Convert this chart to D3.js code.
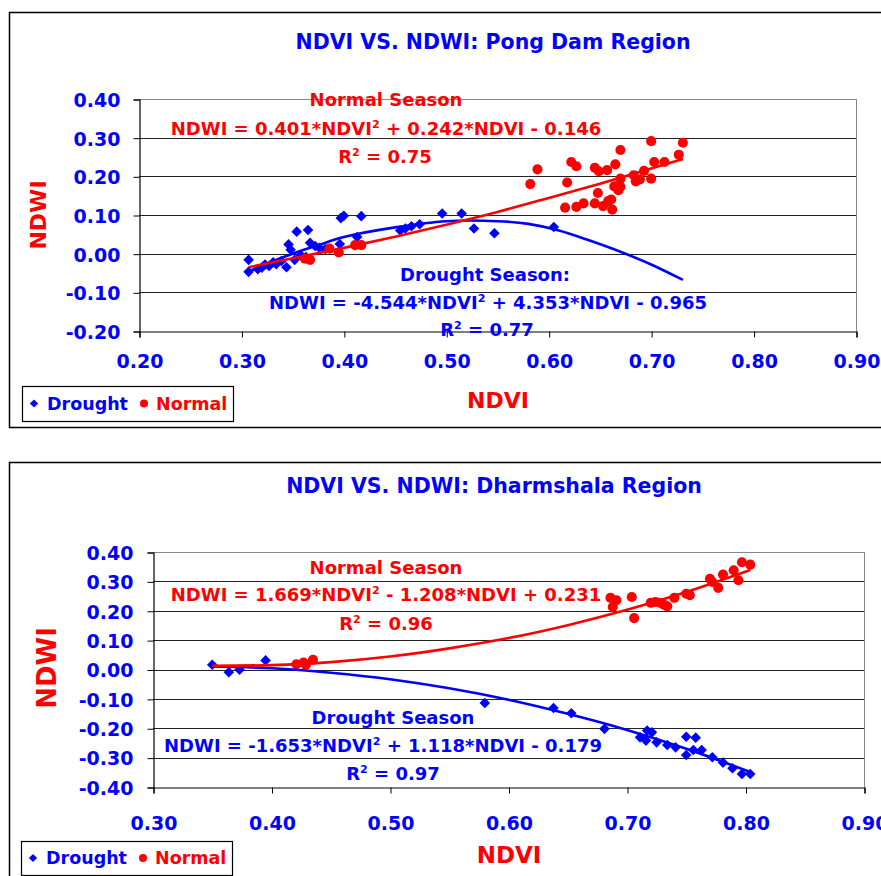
<!DOCTYPE html>
<html><head><meta charset="utf-8">
<script src="https://cdn.jsdelivr.net/npm/d3@7"></script>
<style>body{margin:0;background:#fff;overflow:hidden} svg{display:block}</style>
</head><body>
<script>
// ---------------- DATA ----------------
const xTicksPong = [0.2, 0.3, 0.4, 0.5, 0.6, 0.7, 0.8, 0.9];
const yTicksPong = [-0.2, -0.1, 0.0, 0.1, 0.2, 0.3, 0.4];
const xTicksDhar = [0.3, 0.4, 0.5, 0.6, 0.7, 0.8, 0.9];
const yTicksDhar = [-0.4, -0.3, -0.2, -0.1, 0.0, 0.1, 0.2, 0.3, 0.4];
const seriesNames = ["Drought", "Normal"];

const pongDrought = [
  [0.307,-0.016],[0.307,-0.047],[0.316,-0.040],[0.320,-0.036],[0.323,-0.028],[0.327,-0.032],
  [0.331,-0.022],[0.334,-0.027],[0.339,-0.019],[0.344,-0.035],[0.346,0.024],[0.348,0.010],
  [0.352,-0.016],[0.354,0.057],[0.358,-0.004],[0.363,-0.009],[0.365,0.061],[0.367,0.028],
  [0.372,0.020],[0.376,0.015],[0.382,0.012],[0.396,0.025],[0.397,0.092],[0.400,0.098],
  [0.413,0.043],[0.417,0.097],[0.455,0.060],[0.460,0.065],[0.466,0.071],[0.474,0.076],
  [0.496,0.104],[0.515,0.104],[0.527,0.065],[0.547,0.053],[0.605,0.069]
];
const pongNormal = [
  [0.362,-0.013],[0.367,-0.016],[0.386,0.013],[0.395,0.003],[0.411,0.022],[0.417,0.022],
  [0.582,0.180],[0.589,0.218],[0.616,0.119],[0.618,0.184],[0.622,0.237],[0.627,0.226],
  [0.627,0.121],[0.634,0.130],[0.645,0.130],[0.645,0.222],[0.648,0.157],[0.649,0.213],
  [0.653,0.123],[0.657,0.216],[0.658,0.136],[0.661,0.140],[0.662,0.114],[0.665,0.231],
  [0.664,0.174],[0.668,0.164],[0.670,0.268],[0.670,0.194],[0.670,0.173],[0.683,0.203],
  [0.685,0.187],[0.689,0.192],[0.693,0.214],[0.700,0.291],[0.700,0.194],[0.703,0.237],
  [0.713,0.237],[0.727,0.256],[0.731,0.287]
];
const pongDroughtTrend = [
  [0.307,-0.046],[0.33,-0.020],[0.35,0.000],[0.375,0.022],[0.40,0.043],[0.45,0.068],
  [0.50,0.084],[0.55,0.084],[0.58,0.077],[0.61,0.060],[0.64,0.034],[0.67,0.005],
  [0.70,-0.028],[0.731,-0.068]
];
const pongNormalTrend = [
  [0.307,-0.035],[0.35,-0.012],[0.40,0.015],[0.45,0.044],[0.50,0.075],[0.55,0.108],
  [0.60,0.144],[0.65,0.181],[0.70,0.220],[0.731,0.245]
];

const dharDrought = [
  [0.350,0.016],[0.364,-0.009],[0.373,-0.001],[0.395,0.031],[0.580,-0.114],[0.638,-0.131],
  [0.653,-0.149],[0.681,-0.202],[0.711,-0.231],[0.716,-0.242],[0.717,-0.208],[0.721,-0.214],
  [0.725,-0.248],[0.734,-0.257],[0.741,-0.265],[0.750,-0.229],[0.750,-0.291],[0.756,-0.274],
  [0.758,-0.232],[0.763,-0.274],[0.772,-0.299],[0.781,-0.317],[0.789,-0.336],[0.797,-0.356],
  [0.804,-0.356]
];
const dharNormal = [
  [0.421,0.018],[0.427,0.024],[0.429,0.016],[0.435,0.033],
  [0.686,0.244],[0.688,0.213],[0.691,0.236],[0.704,0.247],[0.706,0.175],[0.720,0.227],
  [0.724,0.230],[0.728,0.227],[0.731,0.221],[0.734,0.215],[0.740,0.244],[0.750,0.258],
  [0.753,0.253],[0.770,0.309],[0.772,0.298],[0.777,0.278],[0.781,0.323],[0.790,0.338],
  [0.794,0.304],[0.797,0.365],[0.804,0.357]
];
const dharDroughtTrend = [
  [0.350,0.010],[0.40,0.004],[0.45,-0.011],[0.50,-0.033],[0.55,-0.064],[0.60,-0.103],
  [0.65,-0.151],[0.70,-0.206],[0.75,-0.270],[0.804,-0.349]
];
const dharNormalTrend = [
  [0.350,0.013],[0.40,0.015],[0.45,0.025],[0.50,0.044],[0.55,0.072],[0.60,0.107],
  [0.65,0.151],[0.70,0.203],[0.75,0.264],[0.804,0.339]
];

const pongTitle = "NDVI VS. NDWI: Pong Dam Region";
const dharTitle = "NDVI VS. NDWI: Dharmshala Region";
const pongLabels = [
  {parts:["Normal Season"], color:"red"},
  {parts:["NDWI = 0.401*NDVI","2"," + 0.242*NDVI - 0.146"], color:"red"},
  {parts:["R","2"," = 0.75"], color:"red"},
  {parts:["Drought Season:"], color:"blue"},
  {parts:["NDWI = -4.544*NDVI","2"," + 4.353*NDVI - 0.965"], color:"blue"},
  {parts:["R","2"," = 0.77"], color:"blue"}
];
const dharLabels = [
  {parts:["Normal Season"], color:"red"},
  {parts:["NDWI = 1.669*NDVI","2"," - 1.208*NDVI + 0.231"], color:"red"},
  {parts:["R","2"," = 0.96"], color:"red"},
  {parts:["Drought Season"], color:"blue"},
  {parts:["NDWI = -1.653*NDVI","2"," + 1.118*NDVI - 0.179"], color:"blue"},
  {parts:["R","2"," = 0.97"], color:"blue"}
];

// ---------------- LAYOUT ----------------
const FONT = "'DejaVu Sans', Verdana, sans-serif";
const BLUE = "#0000ff", RED = "#ff0000";

const svg = d3.select("body").append("svg").attr("width", 881).attr("height", 876);

function drawChart(c) {
  const g = svg.append("g");
  g.append("rect").attr("x", c.frame.x).attr("y", c.frame.y)
    .attr("width", c.frame.w).attr("height", c.frame.h)
    .attr("fill", "#fff").attr("stroke", "#000").attr("stroke-width", 1.5);

  const x = d3.scaleLinear().domain(c.xDomain).range([c.plot.left, c.plot.right]);
  const y = d3.scaleLinear().domain(c.yDomain).range([c.plot.bottom, c.plot.top]);
  const yMax = c.yDomain[1];

  // gridlines
  g.append("g").selectAll("line").data(c.yTicks.filter(d => d !== c.yDomain[0])).join("line")
    .attr("x1", c.plot.left).attr("x2", c.plot.right)
    .attr("y1", d => Math.round(y(d)) + 0.5).attr("y2", d => Math.round(y(d)) + 0.5)
    .attr("stroke", d => Math.abs(d - yMax) < 1e-9 ? "#888" : "#222").attr("stroke-width", 1);
  g.append("line").attr("x1", c.plot.right + 0.5).attr("x2", c.plot.right + 0.5)
    .attr("y1", c.plot.top).attr("y2", c.plot.bottom).attr("stroke", "#888");

  const fmt = d => d.toFixed(2);
  const ya = d3.axisLeft(y).tickValues(c.yTicks).tickSize(6).tickPadding(c.yPad).tickFormat(fmt);
  const yg = g.append("g").attr("transform", `translate(${c.plot.left + 0.5},0.5)`).call(ya);
  const xa = d3.axisBottom(x).tickValues(c.xTicks).tickSize(6).tickFormat(fmt);
  const xg = g.append("g").attr("transform", `translate(0.5,${Math.round(c.plot.bottom) + 0.5})`).call(xa);
  [yg, xg].forEach(a => {
    a.select(".domain").attr("stroke", "#000").attr("stroke-width", 1.2);
    a.selectAll(".tick line").attr("stroke", "#000");
    a.selectAll("text").attr("fill", BLUE).attr("font-family", FONT)
      .attr("font-weight", "bold").attr("font-size", 19);
  });
  yg.selectAll("text").attr("dy", "0.36em");
  xg.selectAll("text").attr("y", c.xLabelOffset).attr("dy", 0);

  // markers
  const diamond = d3.symbol(d3.symbolSquare, c.diamondSize)();
  const circle = d3.symbol(d3.symbolCircle, c.circleSize)();
  g.append("g").selectAll("path").data(c.drought).join("path")
    .attr("d", diamond).attr("fill", BLUE)
    .attr("transform", d => `translate(${x(d[0])},${y(d[1])}) rotate(45)`);
  g.append("g").selectAll("path").data(c.normal).join("path")
    .attr("d", circle).attr("fill", RED)
    .attr("transform", d => `translate(${x(d[0])},${y(d[1])})`);

  const line = d3.line().x(d => x(d[0])).y(d => y(d[1])).curve(d3.curveCatmullRom);
  g.append("path").datum(c.droughtTrend).attr("d", line).attr("fill", "none")
    .attr("stroke", BLUE).attr("stroke-width", 2.6);
  g.append("path").datum(c.normalTrend).attr("d", line).attr("fill", "none")
    .attr("stroke", RED).attr("stroke-width", 2.6);

  // title
  g.append("text").attr("x", c.title.x).attr("y", c.title.y).attr("text-anchor", "middle")
    .attr("font-family", FONT).attr("font-weight", "bold").attr("font-size", c.title.size)
    .attr("fill", BLUE).text(c.title.text);
  // axis titles
  g.append("text").attr("transform", `translate(${c.yTitle.x},${c.yTitle.y}) rotate(-90)`)
    .attr("text-anchor", "middle").attr("font-family", FONT).attr("font-weight", "bold")
    .attr("font-size", c.yTitle.size).attr("fill", RED).text("NDWI");
  g.append("text").attr("x", c.xTitle.x).attr("y", c.xTitle.y).attr("text-anchor", "middle")
    .attr("font-family", FONT).attr("font-weight", "bold")
    .attr("font-size", c.xTitle.size).attr("fill", RED).text("NDVI");

  // annotation labels
  c.labels.forEach((lab, i) => {
    const p = c.labelPos[i];
    const t = g.append("text").attr("x", p[0]).attr("y", p[1]).attr("text-anchor", "middle")
      .attr("font-family", FONT).attr("font-weight", "bold").attr("font-size", c.labelSize)
      .attr("fill", lab.color === "red" ? RED : BLUE);
    lab.parts.forEach((s, k) => {
      const sup = lab.parts.length > 1 && k === 1;
      const ts = t.append("tspan").text(s);
      if (sup) ts.attr("font-size", c.labelSize * 0.62).attr("dy", -7);
      else if (k === 2) ts.attr("dy", 7);
    });
  });

  // legend
  const L = c.legend;
  g.append("rect").attr("x", L.x + 0.5).attr("y", L.y + 0.5).attr("width", L.w).attr("height", L.h)
    .attr("fill", "#fff").attr("stroke", "#000").attr("stroke-width", 1.2);
  const cy = L.y + L.h / 2;
  g.append("path").attr("d", d3.symbol(d3.symbolSquare, 34)())
    .attr("transform", `translate(${L.x + 12},${cy}) rotate(45)`).attr("fill", BLUE);
  g.append("text").attr("x", L.x + 25).attr("y", cy).attr("dy", "0.36em")
    .attr("font-family", FONT).attr("font-weight", "bold").attr("font-size", L.size)
    .attr("fill", BLUE).text(seriesNames[0]);
  g.append("path").attr("d", d3.symbol(d3.symbolCircle, 50)())
    .attr("transform", `translate(${L.x + 122},${cy})`).attr("fill", RED);
  g.append("text").attr("x", L.x + 134).attr("y", cy).attr("dy", "0.36em")
    .attr("font-family", FONT).attr("font-weight", "bold").attr("font-size", L.size)
    .attr("fill", RED).text(seriesNames[1]);
}

drawChart({
  frame: {x: 9.5, y: 12.5, w: 900, h: 415},
  plot: {left: 139, right: 856, top: 99, bottom: 331},
  xDomain: [0.2, 0.9], yDomain: [-0.2, 0.4],
  xTicks: xTicksPong, yTicks: yTicksPong, yPad: 13, xLabelOffset: 36,
  drought: pongDrought, normal: pongNormal,
  droughtTrend: pongDroughtTrend, normalTrend: pongNormalTrend,
  diamondSize: 56, circleSize: 80,
  title: {text: pongTitle, x: 493, y: 49, size: 20.5},
  yTitle: {x: 46, y: 215, size: 22},
  xTitle: {x: 498, y: 408, size: 22},
  labels: pongLabels, labelSize: 18,
  labelPos: [[386, 106], [386, 135], [385, 163], [485, 281], [488, 309], [487, 336]],
  legend: {x: 22, y: 386, w: 211, h: 35, size: 17.5}
});

drawChart({
  frame: {x: 9.5, y: 462.5, w: 900, h: 500},
  plot: {left: 153, right: 864, top: 552, bottom: 787},
  xDomain: [0.3, 0.9], yDomain: [-0.4, 0.4],
  xTicks: xTicksDhar, yTicks: yTicksDhar, yPad: 14, xLabelOffset: 42,
  drought: dharDrought, normal: dharNormal,
  droughtTrend: dharDroughtTrend, normalTrend: dharNormalTrend,
  diamondSize: 56, circleSize: 80,
  title: {text: dharTitle, x: 494, y: 493, size: 20.5},
  yTitle: {x: 56, y: 668, size: 26},
  xTitle: {x: 509, y: 863, size: 23},
  labels: dharLabels, labelSize: 18,
  labelPos: [[386, 574], [386, 601], [386, 630], [393, 724], [383, 752], [393, 780]],
  legend: {x: 21, y: 841, w: 211, h: 34, size: 17.5}
});
</script>
</body></html>
